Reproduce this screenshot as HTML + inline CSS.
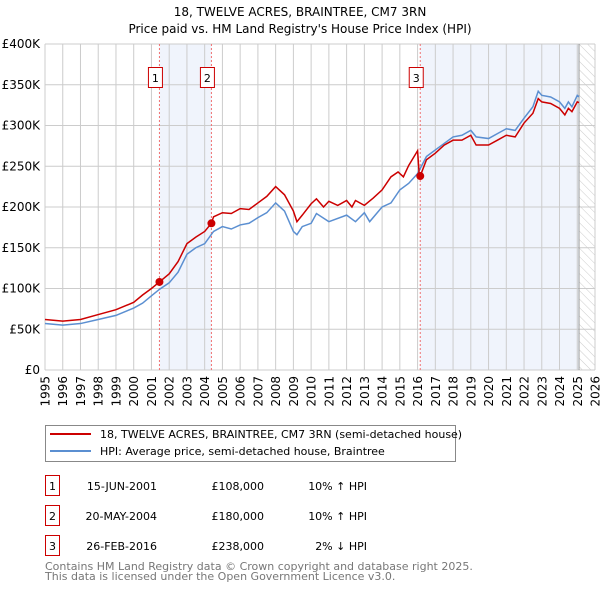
<!DOCTYPE html>
<html><head><meta charset="utf-8"><style>
body{margin:0;background:#fff;font-family:"DejaVu Sans","Liberation Sans",sans-serif;}
svg text{font-family:"DejaVu Sans","Liberation Sans",sans-serif;}
</style></head><body>
<svg id="c" width="600" height="590" xmlns="http://www.w3.org/2000/svg">
<defs><pattern id="hatch" width="6" height="6" patternUnits="userSpaceOnUse" patternTransform="rotate(-45)"><line x1="0" y1="0" x2="0" y2="6" stroke="#ccc" stroke-width="1"/></pattern></defs>
<text x="300" y="16" text-anchor="middle" font-size="12">18, TWELVE ACRES, BRAINTREE, CM7 3RN</text>
<text x="300" y="33" text-anchor="middle" font-size="12">Price paid vs. HM Land Registry's House Price Index (HPI)</text>
<g id="plot"></g>
<g>
<rect x="45.5" y="425.5" width="410" height="36" fill="#fff" stroke="#888"/>
<line x1="50" y1="434" x2="91" y2="434" stroke="#cc0000" stroke-width="2"/>
<text x="100" y="438" font-size="11">18, TWELVE ACRES, BRAINTREE, CM7 3RN (semi-detached house)</text>
<line x1="50" y1="451" x2="91" y2="451" stroke="#5b8fd1" stroke-width="2"/>
<text x="100" y="455" font-size="11">HPI: Average price, semi-detached house, Braintree</text>
</g>
<g font-size="11">
<rect x="45.5" y="475.5" width="14" height="20" fill="#fff" stroke="#cc0000"/><text x="52.5" y="490" text-anchor="middle">1</text>
<text x="157" y="490" text-anchor="end">15-JUN-2001</text><text x="264" y="490" text-anchor="end">£108,000</text><text x="367" y="490" text-anchor="end">10% ↑ HPI</text>
<rect x="45.5" y="505.5" width="14" height="20" fill="#fff" stroke="#cc0000"/><text x="52.5" y="520" text-anchor="middle">2</text>
<text x="157" y="520" text-anchor="end">20-MAY-2004</text><text x="264" y="520" text-anchor="end">£180,000</text><text x="367" y="520" text-anchor="end">10% ↑ HPI</text>
<rect x="45.5" y="535.5" width="14" height="20" fill="#fff" stroke="#cc0000"/><text x="52.5" y="550" text-anchor="middle">3</text>
<text x="157" y="550" text-anchor="end">26-FEB-2016</text><text x="264" y="550" text-anchor="end">£238,000</text><text x="367" y="550" text-anchor="end">2% ↓ HPI</text>
</g>
<text x="45" y="570" font-size="11" fill="#777">Contains HM Land Registry data © Crown copyright and database right 2025.</text>
<text x="45" y="580" font-size="11" fill="#777">This data is licensed under the Open Government Licence v3.0.</text>
</svg>
<script>
const yTicks=[0,50,100,150,200,250,300,350,400];
const yLabels=["£0","£50K","£100K","£150K","£200K","£250K","£300K","£350K","£400K"];
const xYears=[1995,1996,1997,1998,1999,2000,2001,2002,2003,2004,2005,2006,2007,2008,2009,2010,2011,2012,2013,2014,2015,2016,2017,2018,2019,2020,2021,2022,2023,2024,2025,2026];
const hpiT=[1995,1996,1997,1998,1999,2000,2000.5,2001,2001.45,2002,2002.5,2003,2003.5,2004,2004.5,2005,2005.5,2006,2006.5,2007,2007.5,2008,2008.5,2009,2009.2,2009.5,2010,2010.3,2011,2012,2012.5,2013,2013.3,2014,2014.5,2015,2015.5,2016,2016.5,2017,2017.5,2018,2018.5,2019,2019.3,2020,2020.5,2021,2021.5,2022,2022.5,2022.8,2023,2023.5,2024,2024.3,2024.5,2024.7,2025,2025.1];
const hpiV=[57,55,57,62,67,76,82,91,99,107,120,142,150,155,170,176,173,178,180,187,193,205,195,170,166,176,180,192,182,190,182,193,182,200,205,221,229,241,262,270,278,286,288,294,286,284,290,296,294,309,323,342,337,335,329,321,329,323,337,335];
const priceT=[1995,1996,1997,1998,1999,2000,2000.5,2001,2001.45,2002,2002.5,2003,2003.5,2004,2004.38,2004.5,2005,2005.5,2006,2006.5,2007,2007.5,2008,2008.5,2009,2009.2,2009.5,2010,2010.3,2010.7,2011,2011.5,2012,2012.3,2012.5,2013,2013.5,2014,2014.5,2014.9,2015.2,2015.5,2016,2016.1,2016.15,2016.5,2017,2017.5,2018,2018.5,2019,2019.3,2020,2020.5,2021,2021.5,2022,2022.5,2022.8,2023,2023.5,2024,2024.3,2024.5,2024.7,2025,2025.1];
const priceV=[62,60,62,68,74,83,92,100,108,118,133,155,163,170,180,188,193,192,198,197,205,213,225,215,195,182,190,204,210,200,207,202,208,200,208,202,211,221,237,243,237,251,269,237,238,258,266,276,282,282,288,276,276,282,288,286,303,315,333,329,327,321,313,321,317,329,328];
const saleT=[2001.45,2004.38,2016.15];
const saleV=[108,180,238];
const saleLabels=["1","2","3"];
const X0=45,X1=595,Y0=370,Y1=44;
const x=t=>X0+(t-1995)/(2026-1995)*(X1-X0);
const y=v=>Y0-v/400*(Y0-Y1);
const NS="http://www.w3.org/2000/svg";
const g=document.getElementById('plot');
function mk(tag,attrs,parent){const e=document.createElementNS(NS,tag);for(const k in attrs)e.setAttribute(k,attrs[k]);(parent||g).appendChild(e);return e;}
let e;
e=mk('rect',{x:x(saleT[0]),y:Y1,width:x(saleT[1])-x(saleT[0]),height:Y0-Y1,fill:'#f0f4fc'});


e=mk('rect',{x:x(saleT[2]),y:Y1,width:x(2025.1)-x(saleT[2]),height:Y0-Y1,fill:'#f0f4fc'});


e=mk('rect',{x:x(2025.1),y:Y1,width:X1-x(2025.1),height:Y0-Y1,fill:'url(#hatch)'});


yTicks.forEach((v,i)=>{
 e=mk('line',{x1:X0,x2:X1,y1:y(v),y2:y(v),stroke:'#ccc'});
 
 
 e=mk('text',{x:40,y:y(v)+4,'text-anchor':'end','font-size':12});
 e.textContent=yLabels[i];
 
 
});
xYears.forEach(t=>{
 e=mk('line',{x1:x(t),x2:x(t),y1:Y1,y2:Y0,stroke:'#ccc'});
 
 
 e=mk('text',{x:0,y:0,'text-anchor':'end','font-size':12,transform:'translate('+(x(t)+4.5)+',376) rotate(-90)'});
 e.textContent=t;
 
 
});
e=mk('line',{x1:x(2025.1),x2:x(2025.1),y1:Y1,y2:Y0,stroke:'#999','stroke-width':1});


saleT.forEach((t,i)=>{
 e=mk('line',{x1:x(t),x2:x(t),y1:Y1,y2:Y0,stroke:'#f07070','stroke-dasharray':'2,2'});
 
 
 e=mk('rect',{x:x(t)-11,y:67.5,width:14,height:20,fill:'#fff',stroke:'#cc0000'});
 
 
 e=mk('text',{x:x(t)-4,y:82,'text-anchor':'middle','font-size':11});
 e.textContent=saleLabels[i];
 
 
});
e=mk('polyline',{points:hpiT.map((t,i)=>x(t)+','+y(hpiV[i])).join(' '),fill:'none',stroke:'#5b8fd1','stroke-width':1.5});


e=mk('polyline',{points:priceT.map((t,i)=>x(t)+','+y(priceV[i])).join(' '),fill:'none',stroke:'#cc0000','stroke-width':1.5});


saleT.forEach((t,i)=>{
 e=mk('circle',{cx:x(t),cy:y(saleV[i]),r:4,fill:'#cc0000'});
 
 
});
</script>
</body></html>
